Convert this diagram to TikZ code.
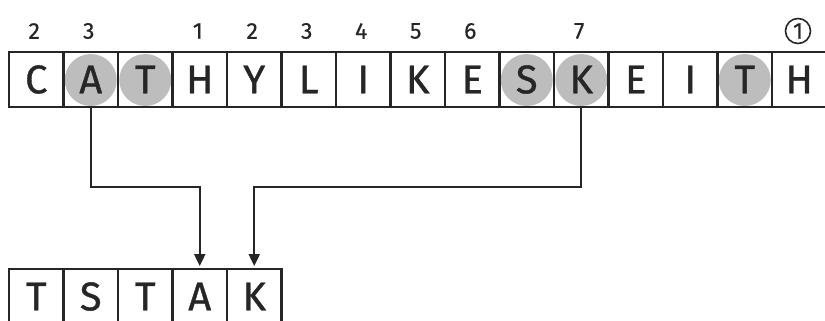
\documentclass[tikz,border=0pt]{standalone}
\usepackage{fontspec}
\setmainfont{Fira Sans}
\newfontfamily\cellfont{Fira Sans}[FakeBold=0.9]
\newfontfamily\idxfont{Fira Sans}[FakeBold=0.5]
\usetikzlibrary{arrows.meta}
\definecolor{ink}{HTML}{262626}
\definecolor{hilite}{HTML}{BDBDBD}
\tikzset{
  cell/.style={draw=ink, line width=2.4pt, minimum width=54.5pt, minimum height=55pt, inner sep=0pt, outer sep=0pt, font=\cellfont\fontsize{40}{40}\selectfont, text=ink},
  idx/.style={font=\idxfont\fontsize{23}{23}\selectfont, text=ink, inner sep=0pt},
  spot/.style={fill=hilite, draw=none},
  link/.style={draw=ink, line width=2.4pt, -{Triangle[length=12pt,width=11pt]}, shorten >=3pt}
}
\begin{document}
\begin{tikzpicture}[x=1pt,y=-1pt]
\useasboundingbox (0,0) rectangle (825,321);
\clip (0,0) rectangle (825,321);
% highlight discs
\foreach \i in {2,3,10,11,14} {
  \fill[hilite] ({9+54.5*(\i-0.5)},80) circle (26);
}
% top row
\foreach \ch [count=\i] in {C,A,T,H,Y,L,I,K,E,S,K,E,I,T,H} {
  \node[cell] (t\i) at ({9+54.5*(\i-0.5)},79.5) {\ch};
}
% index numbers
\foreach \c/\n in {1/2,2/3,4/1,5/2,6/3,7/4,8/5,9/6,11/7} {
  \node[idx] (n\c) at ({9+54.5*(\c-0.5)-2},31) {\n};
}
\node[idx, draw=ink, circle, line width=1.6pt, minimum size=25pt] (n15) at (798,31) {1};
% bottom row
\foreach \ch [count=\i] in {T,S,T,A,K} {
  \node[cell] (b\i) at ({9+54.5*(\i-0.5)},296.5) {\ch};
}
% connectors
\draw[link] (t2.south) -- (t2.south |- 0,187) -- (b4.north |- 0,187) -- (b4.north);
\draw[link] (t11.south) -- (t11.south |- 0,187) -- (b5.north |- 0,187) -- (b5.north);
\end{tikzpicture}
\end{document}
